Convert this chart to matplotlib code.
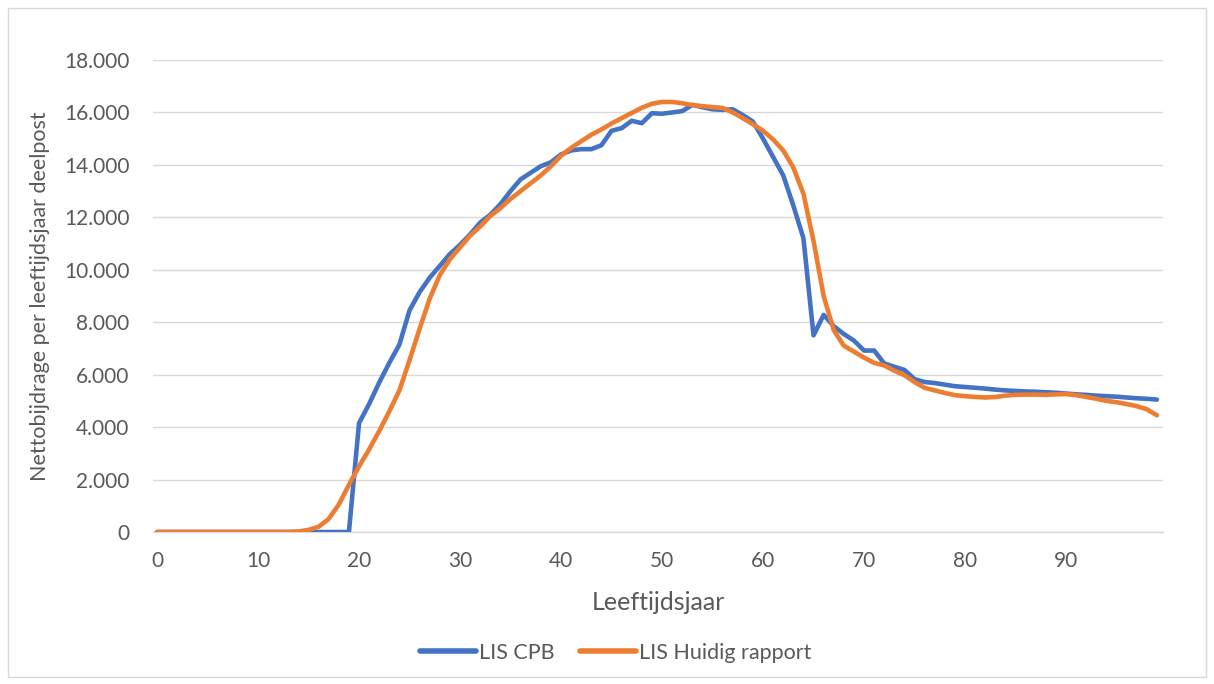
import numpy as np
import matplotlib.pyplot as plt
from matplotlib.ticker import FuncFormatter
from matplotlib.patches import Rectangle

plt.rcParams['font.family'] = ['Lato', 'DejaVu Sans']

# leeftijdsjaren 0 t/m 99
leeftijd = list(range(100))

# nettobijdrage per leeftijdsjaar, LIS CPB
lis_cpb = [0] * 20 + [
    4150, 4880, 5700, 6450, 7150, 8450, 9150, 9700, 10150, 10600,
    10950, 11350, 11800, 12100, 12500, 13000, 13450, 13700, 13950, 14100,
    14400, 14550, 14600, 14600, 14750, 15300, 15400, 15680, 15590, 15970,
    15950, 16000, 16050, 16290, 16200, 16120, 16100, 16120, 15900, 15650,
    15000, 14300, 13600, 12450, 11200, 7500, 8280, 7850, 7550, 7300,
    6920, 6920, 6430, 6300, 6180, 5830, 5720, 5680, 5620, 5560,
    5530, 5500, 5470, 5430, 5400, 5380, 5360, 5350, 5330, 5310,
    5280, 5250, 5230, 5200, 5180, 5160, 5130, 5100, 5080, 5050,
]

# nettobijdrage per leeftijdsjaar, LIS huidig rapport
lis_huidig = [0] * 14 + [
    20, 80, 200, 500, 1050, 1800,
    2500, 3150, 3850, 4600, 5400, 6550, 7750, 8900, 9800, 10400,
    10850, 11300, 11650, 12050, 12350, 12700, 13000, 13300, 13600, 13950,
    14350, 14650, 14900, 15150, 15350, 15580, 15780, 15980, 16180, 16330,
    16400, 16400, 16350, 16280, 16240, 16200, 16170, 16000, 15780, 15550,
    15300, 14970, 14550, 13900, 12900, 11100, 9000, 7700, 7100, 6880,
    6650, 6450, 6350, 6150, 5980, 5720, 5500, 5400, 5300, 5220,
    5180, 5150, 5130, 5150, 5200, 5230, 5240, 5240, 5230, 5250,
    5260, 5220, 5150, 5080, 5000, 4950, 4880, 4800, 4680, 4450,
]

fig = plt.figure(figsize=(12.14, 6.84), dpi=100)
ax = fig.add_axes([0.126, 0.2222, 0.832, 0.6901])

# lichtgrijze rand om de hele grafiek
fig.patches.append(Rectangle((0.007, 0.01), 0.986, 0.978, transform=fig.transFigure,
                             fill=False, edgecolor='#d9d9d9', linewidth=1))

ax.plot(leeftijd, lis_cpb, color='#4472C4', linewidth=3.3, label='LIS CPB',
        solid_joinstyle='round', solid_capstyle='round')
ax.plot(leeftijd, lis_huidig, color='#ED7D31', linewidth=3.3, label='LIS Huidig rapport',
        solid_joinstyle='round', solid_capstyle='round')

ax.set_xlim(-0.4, 99.6)
ax.set_ylim(0, 18000)
ax.set_xticks(range(0, 100, 10))
ax.set_yticks(range(0, 18001, 2000))
ax.yaxis.set_major_formatter(FuncFormatter(lambda v, p: f'{int(v):,}'.replace(',', '.')))

ax.grid(axis='y', color='#d9d9d9', linewidth=1)
ax.set_axisbelow(True)
for s in ['top', 'right', 'left']:
    ax.spines[s].set_visible(False)
ax.spines['bottom'].set_color('#d9d9d9')
ax.spines['bottom'].set_linewidth(1)
ax.spines['bottom'].set_zorder(0.5)

ax.tick_params(axis='both', length=0, labelsize=15, labelcolor='#595959')
ax.tick_params(axis='y', pad=17)
ax.tick_params(axis='x', pad=14)

ax.set_xlabel('Leeftijdsjaar', fontsize=18, color='#595959', labelpad=14)
ax.set_ylabel('Nettobijdrage per leeftijdsjaar deelpost', fontsize=15.5, color='#595959',
              labelpad=10)

# legenda onder de grafiek, gecentreerd op de hele figuur
h, l = ax.get_legend_handles_labels()
leg = fig.legend(h, l, loc='center', bbox_to_anchor=(0.507, 0.046), ncol=2, frameon=False,
                 fontsize=15.5, handlelength=2.6, columnspacing=1.2, handletextpad=0.12)
for t in leg.get_texts():
    t.set_color('#595959')
for line in leg.get_lines():
    line.set_linewidth(4)

fig.savefig('out.png', dpi=100)
